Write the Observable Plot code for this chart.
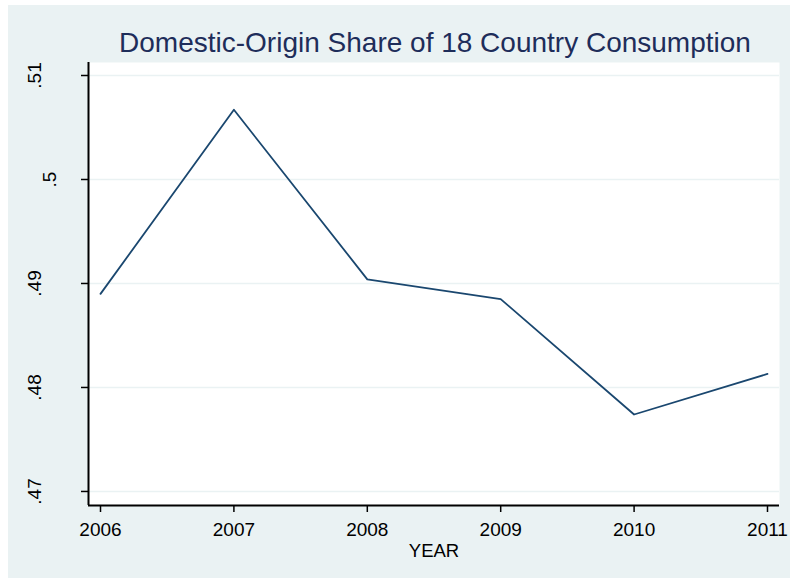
<!DOCTYPE html>
<html>
<head>
<meta charset="utf-8">
<script src="https://cdn.jsdelivr.net/npm/d3@7"></script>
<script src="https://cdn.jsdelivr.net/npm/@observablehq/plot@0.6"></script>
<style>
  html, body { margin: 0; padding: 0; background: #ffffff; }
  #wrap { position: relative; width: 790px; height: 578px; background: #ffffff; overflow: hidden; }
  #bg { position: absolute; left: 8px; top: 5px; right: 0; bottom: 0; background: #eaf2f3; }
  #title { position: absolute; left: 0; top: 29px; width: 870px; text-align: center; white-space: nowrap;
           font-family: "Liberation Sans", Arial, sans-serif; font-size: 28px; color: #1e2d5a; line-height: 1; }
  #chart { position: absolute; left: 0; top: 50px; }
  #chart svg { background: transparent !important; }
</style>
</head>
<body>
<div id="wrap">
  <div id="bg"></div>
  <div id="title">Domestic-Origin Share of 18 Country Consumption</div>
  <div id="chart"></div>
</div>
<script>
const years = [2006, 2007, 2008, 2009, 2010, 2011];
const shares = [0.4890, 0.5067, 0.4904, 0.4885, 0.4774, 0.4813];
const yTicks = [0.47, 0.48, 0.49, 0.50, 0.51];
const yTickLabels = [".47", ".48", ".49", ".5", ".51"];
const xTicks = [2006, 2007, 2008, 2009, 2010, 2011];
const xLabel = "YEAR";

const data = years.map((y, i) => ({year: y, share: shares[i]}));
const yLabels = yTicks.map((t, i) => ({v: t, label: yTickLabels[i]}));
const longLabels = yLabels.filter(d => d.label.length > 2);
const shortLabels = yLabels.filter(d => d.label.length <= 2);

const font = "'Liberation Sans', Arial, sans-serif";

const plot = Plot.plot({
  width: 790,
  height: 528,
  marginLeft: 88,
  marginRight: 11,
  marginTop: 12,
  marginBottom: 73,
  style: {fontFamily: font, fontSize: "19px", color: "#000", background: "transparent"},
  x: {domain: [2005.91, 2011.09], ticks: xTicks, tickFormat: d => String(d), label: null},
  y: {domain: [0.46865, 0.51125], ticks: yTicks, label: null},
  marks: [
    Plot.frame({fill: "#ffffff", stroke: null}),
    Plot.gridY(yTicks, {stroke: "#eaf2f3", strokeOpacity: 1, strokeWidth: 1.6}),
    Plot.axisX({ticks: xTicks, tickSize: 7, tickPadding: 10, tickFormat: d => String(d), stroke: "#000", strokeWidth: 1.5, fontSize: 19, fill: "#000", label: null}),
    Plot.axisY({ticks: yTicks, tickSize: 7, tickFormat: () => "", stroke: "#000", strokeWidth: 1.5, label: null}),
    Plot.text(longLabels, {y: "v", text: "label", frameAnchor: "left", rotate: -90, textAnchor: "middle", lineAnchor: "middle", dx: -54, fontSize: 19, fill: "#000"}),
    Plot.text(shortLabels, {y: "v", text: "label", frameAnchor: "left", rotate: -90, textAnchor: "middle", lineAnchor: "middle", dx: -39, fontSize: 19, fill: "#000"}),
    Plot.ruleY([0.46865], {stroke: "#000", strokeWidth: 2}),
    Plot.ruleX([2005.91], {stroke: "#000", strokeWidth: 2}),
    Plot.text([xLabel], {frameAnchor: "bottom", dy: 51, fontSize: 18.5, fill: "#000"}),
    Plot.line(data, {x: "year", y: "share", stroke: "#1a476f", strokeWidth: 1.8})
  ]
});
document.getElementById("chart").appendChild(plot);
</script>
</body>
</html>
